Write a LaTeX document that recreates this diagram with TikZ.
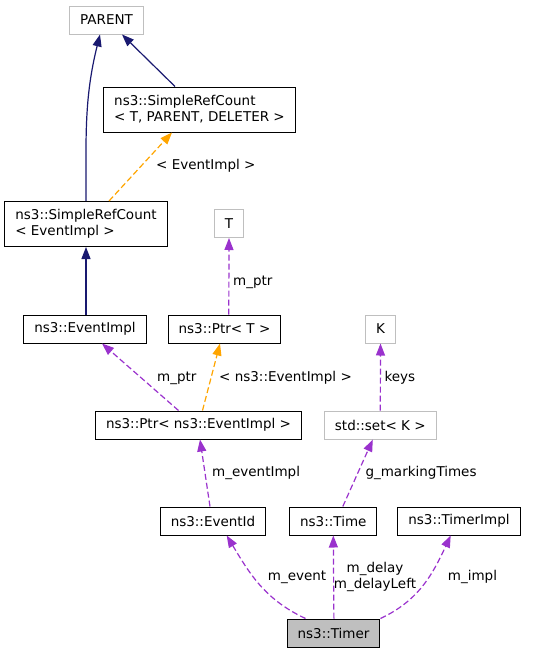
\documentclass[tikz,border=0pt]{standalone}
\usepackage{fontspec}
\setmainfont{DejaVu Sans}
\usetikzlibrary{arrows.meta}
\definecolor{navyedge}{HTML}{191970}
\definecolor{orchidedge}{HTML}{9A32CD}
\definecolor{orangeedge}{HTML}{FFA500}
\definecolor{greybox}{HTML}{BFBFBF}
\begin{document}
\begin{tikzpicture}[x=1pt,y=-1pt,
  font=\fontsize{13.5}{16}\selectfont,
  cbox/.style={draw=black, line width=1pt, inner xsep=10.5pt, inner ysep=0pt, minimum height=28pt},
  gbox/.style={cbox, draw=greybox},
  inherit/.style={navyedge, line width=1.2pt, -{Triangle[length=12pt,width=9pt]}},
  tmplarg/.style={orangeedge, line width=1.2pt, dash pattern=on 6pt off 3pt, -{Triangle[length=12pt,width=9pt]}},
  usage/.style={orchidedge, line width=1.2pt, dash pattern=on 6pt off 3pt, -{Triangle[length=12pt,width=9pt]}},
  elabel/.style={anchor=base west, inner sep=0pt}]
\useasboundingbox (0,0) rectangle (533,653);
\node [gbox] (parent) at (106.5,20) {PARENT};
\node [cbox, align=left, minimum height=45pt] (srcT) at (199.5,109.5) {ns3::SimpleRefCount\\< T, PARENT, DELETER >};
\node [cbox, align=left, minimum height=45pt] (srcE) at (86,224) {ns3::SimpleRefCount\\< EventImpl >};
\node [gbox] (T) at (229,223.5) {T};
\node [cbox] (eimpl) at (85,329) {ns3::EventImpl};
\node [cbox] (ptrT) at (224.5,329) {ns3::Ptr< T >};
\node [gbox] (K) at (380.5,329) {K};
\node [cbox] (ptrE) at (198.5,425) {ns3::Ptr< ns3::EventImpl >};
\node [gbox] (setK) at (380.3,425) {std::set< K >};
\node [cbox] (eid) at (213,521) {ns3::EventId};
\node [cbox] (time) at (333.3,521) {ns3::Time};
\node [cbox] (timpl) at (459,521) {ns3::TimerImpl};
\node [cbox, fill=greybox] (timer) at (333.5,633) {ns3::Timer};
\draw [inherit] (srcE.north) to [out=90, in=-104] ([xshift=-6.5pt]parent.south);
\draw [inherit] ([xshift=-24.5pt]srcT.north) -- ([xshift=15.5pt]parent.south);
\draw [tmplarg] ([xshift=23pt]srcE.north) -- ([xshift=-27.5pt]srcT.south);
\draw [inherit] (eimpl.north -| srcE.south) -- (srcE.south);
\draw [usage] ([xshift=4.3pt]ptrT.north) -- (T.south);
\draw [usage] ([xshift=-20pt]ptrE.north) -- ([xshift=17pt]eimpl.south);
\draw [tmplarg] ([xshift=4pt]ptrE.north) -- ([xshift=-4.5pt]ptrT.south);
\draw [usage] (setK.north) -- (K.south);
\draw [usage] ([xshift=-3pt]eid.north) -- ([xshift=1.5pt]ptrE.south);
\draw [usage] ([xshift=9.5pt]time.north) -- ([xshift=-7.5pt]setK.south);
\draw [usage] ([xshift=-28pt]timer.north) to [out=155, in=-59] ([xshift=13.7pt]eid.south);
\draw [usage] ([xshift=0.4pt]timer.north) -- (time.south);
\draw [usage] (timer.north east) to [out=25, in=-115] ([xshift=-8.3pt]timpl.south);
\node [elabel] (lsrc) at (156,169) {< EventImpl >};
\node [elabel] (lptrT) at (233,285) {m\_ptr};
\node [elabel] (lptrE) at (157,381.5) {m\_ptr};
\node [elabel] (lptrarg) at (219,381.5) {< ns3::EventImpl >};
\node [elabel] (lkeys) at (384.3,381.5) {keys};
\node [elabel] (leimpl) at (212,476.7) {m\_eventImpl};
\node [elabel] (lmark) at (365.3,476.7) {g\_markingTimes};
\node [elabel] (levent) at (267.7,580.7) {m\_event};
\node [align=center, inner sep=0pt] (ldelay) at (375,577) {m\_delay\\m\_delayLeft};
\node [elabel] (limpl) at (447.7,580.7) {m\_impl};
\end{tikzpicture}
\end{document}
